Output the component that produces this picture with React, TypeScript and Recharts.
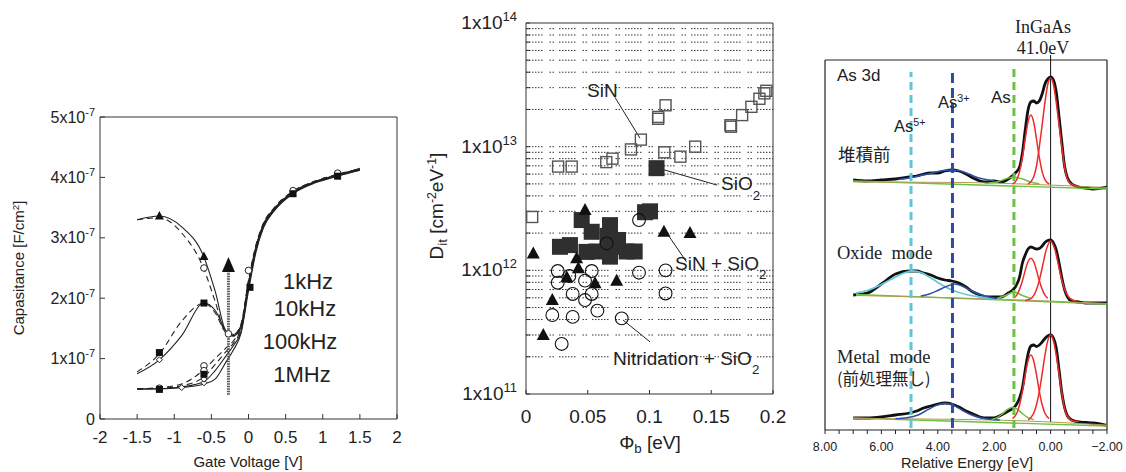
import React from 'react'
import {
  ComposedChart, ScatterChart, LineChart,
  Line, Scatter, XAxis, YAxis, ReferenceLine,
} from 'recharts'

const SANS = '"Liberation Sans", Arial, sans-serif'
const SERIF = '"Liberation Serif", "Times New Roman", serif'
const CJK = '"Noto Sans CJK JP", "Noto Sans CJK SC", sans-serif'
const INK = '#222'
const W = 1126
const H = 472

// ---------- left panel: C-V, capacitance in 1e-7 F/cm2
const gateV = [-1.5, -1.2, -0.9, -0.6, -0.45, -0.3, -0.2, -0.1, 0, 0.1, 0.2, 0.35, 0.6, 0.9, 1.2, 1.5]
const cap1k = [3.30, 3.36, 3.18, 2.68, 2.12, 1.45, 1.40, 1.55, 2.25, 2.85, 3.22, 3.48, 3.76, 3.93, 4.04, 4.15]
const cap1kB = [3.30, 3.33, 3.08, 2.48, 1.95, 1.42, 1.40, 1.58, 2.30, 2.88, 3.24, 3.50, 3.77, 3.94, 4.05, 4.14]
const cap10k = [0.75, 0.98, 1.38, 1.92, 1.80, 1.45, 1.38, 1.52, 2.20, 2.80, 3.20, 3.47, 3.74, 3.92, 4.03, 4.13]
const cap10kB = [0.78, 1.08, 1.62, 1.92, 1.76, 1.42, 1.37, 1.55, 2.26, 2.84, 3.22, 3.49, 3.76, 3.93, 4.04, 4.14]
const cap100k = [0.50, 0.50, 0.53, 0.62, 0.80, 1.05, 1.22, 1.45, 2.18, 2.80, 3.18, 3.46, 3.74, 3.92, 4.03, 4.12]
const cap100kB = [0.50, 0.52, 0.58, 0.82, 1.00, 1.18, 1.30, 1.52, 2.28, 2.86, 3.22, 3.50, 3.77, 3.94, 4.05, 4.14]
const cap1M = [0.49, 0.50, 0.52, 0.58, 0.66, 0.95, 1.15, 1.42, 2.12, 2.76, 3.16, 3.45, 3.73, 3.91, 4.02, 4.12]
const cap1MB = [0.50, 0.51, 0.55, 0.70, 0.90, 1.12, 1.26, 1.50, 2.25, 2.84, 3.20, 3.48, 3.75, 3.93, 4.04, 4.13]

const cvXTicks = [-2, -1.5, -1, -0.5, 0, 0.5, 1, 1.5, 2]
const cvYTicks = [0, 1, 2, 3, 4, 5]

const triMarks = [[-1.2, 3.36], [-0.6, 2.69]]
const squareMarks = [[-1.2, 1.1], [-0.6, 1.92], [0.02, 2.18], [0.6, 3.73], [1.2, 4.02], [-1.2, 0.49], [-0.6, 0.74]]
const circleMarks = [[-0.6, 2.5], [-0.27, 1.41], [-0.6, 0.88], [-1.2, 0.51], [0, 2.46], [0.6, 3.78], [1.2, 4.07], [-0.6, 0.8]]
const diamondMarks = [[-1.2, 0.98], [-0.6, 0.6], [-0.9, 0.52], [-0.6, 0.66]]

const arrowV = -0.27
const arrowFrom = 0.4
const arrowTo = 2.45

const cvData = gateV.map((v, i) => ({
  v,
  a: cap1k[i], aB: cap1kB[i],
  b: cap10k[i], bB: cap10kB[i],
  c: cap100k[i], cB: cap100kB[i],
  d: cap1M[i], dB: cap1MB[i],
}))
const cvLines = [
  { key: 'a', dash: false }, { key: 'aB', dash: true },
  { key: 'b', dash: false }, { key: 'bB', dash: true },
  { key: 'c', dash: false }, { key: 'cB', dash: true },
  { key: 'd', dash: false }, { key: 'dB', dash: true },
]
const toVC = (p: number[][]) => p.map(([v, c]) => ({ v, c }))

// ---------- middle panel: Dit vs barrier height
const sinPts = [
  [0.005, 2.7e12], [0.026, 6.9e12], [0.037, 6.9e12], [0.065, 7.5e12], [0.070, 8.0e12],
  [0.085, 9.5e12], [0.093, 1.14e13], [0.107, 1.74e13], [0.107, 1.68e13], [0.113, 2.16e13],
  [0.112, 9.0e12], [0.125, 8.3e12], [0.137, 1.0e13], [0.1655, 1.49e13], [0.166, 1.45e13],
  [0.175, 1.8e13], [0.1825, 2.1e13], [0.189, 2.44e13], [0.1946, 2.83e13], [0.193, 2.7e13],
]
const sio2Pts = [
  [0.1057, 6.7e12], [0.0964, 2.95e12], [0.1004, 3.0e12], [0.0451, 2.55e12], [0.0532, 2.05e12],
  [0.068, 2.32e12], [0.066, 1.9e12], [0.0275, 1.55e12], [0.0356, 1.6e12], [0.049, 1.41e12],
  [0.0572, 1.42e12], [0.0694, 1.55e12], [0.068, 1.29e12], [0.0745, 1.76e12], [0.0815, 1.42e12],
  [0.088, 1.42e12],
]
const sinSio2Pts = [
  [0.0059, 1.37e12], [0.0478, 3.07e12], [0.041, 1.25e12], [0.0424, 1.04e12], [0.033, 8.8e11],
  [0.0559, 7.85e11], [0.0734, 8.25e11], [0.0213, 5.75e11], [0.014, 3.0e11], [0.1117, 2.05e12],
  [0.1328, 2.0e12],
]
const nitrPts = [
  [0.0915, 2.55e12], [0.0653, 1.65e12], [0.0257, 9.87e11], [0.0351, 9.0e11], [0.0532, 9.87e11],
  [0.0257, 7.94e11], [0.0478, 8.25e11], [0.0915, 9.57e11], [0.113, 1.0e12], [0.0378, 6.44e11],
  [0.0532, 6.44e11], [0.0478, 5.75e11], [0.113, 6.5e11], [0.0213, 4.35e11], [0.0378, 4.2e11],
  [0.0578, 4.72e11], [0.0775, 4.09e11], [0.0289, 2.54e11],
]
const ditXTicks = [0, 0.05, 0.1, 0.15, 0.2]
const ditYTicks = [
  1e11, 2e11, 3e11, 4e11, 5e11, 6e11, 7e11, 8e11, 9e11,
  1e12, 2e12, 3e12, 4e12, 5e12, 6e12, 7e12, 8e12, 9e12,
  1e13, 2e13, 3e13, 4e13, 5e13, 6e13, 7e13, 8e13, 9e13, 1e14,
]
const ditLeaders = [
  [[0.072, 2.51e13], [0.0923, 1.17e13]],
  [[0.107, 6.7e12], [0.1547, 4.89e12]],
  [[0.114, 2.0e12], [0.130, 1.17e12]],
  [[0.0785, 3.97e11], [0.1004, 2.64e11]],
]
const toXY = (p: number[][]) => p.map(([x, y]) => ({ x, y }))

// ---------- right panel: As 3d XPS (intensity a.u., spectra stacked)
const specE = [7.0, 6.5, 6.0, 5.5, 5.0, 4.75, 4.5, 4.25, 4.0, 3.75, 3.5, 3.25, 3.0, 2.75, 2.5, 2.25, 2.0, 1.75, 1.5, 1.25, 1.1, 1.0, 0.9, 0.8, 0.7, 0.6, 0.5, 0.4, 0.3, 0.2, 0.1, 0.0, -0.1, -0.2, -0.3, -0.4, -0.5, -0.6, -0.75, -1.0, -1.25, -1.5, -2.0]
const specBefore = [250, 249, 250, 251, 253, 254, 256, 257, 257, 259, 260, 259, 256, 252, 249, 248, 249, 248, 251, 257, 263, 277, 300, 320, 328, 329, 327, 329, 336, 346, 351, 353, 350, 338, 313, 287, 263, 252, 246, 243, 242, 241, 243]
const specOxide = [135, 137, 146, 156, 159, 159, 157, 155, 152, 150, 149, 147, 143, 138, 135, 133, 133, 133, 137, 143, 153, 167, 175, 181, 183, 182, 181, 181.5, 184, 187.5, 189.5, 190, 187, 180, 167, 152, 140, 133, 129, 128, 127, 127, 127]
const specMetal = [12, 12, 13, 15, 17, 19, 22, 24, 26, 27, 26, 23, 19, 16, 13, 12, 12, 15, 19, 24, 32, 42, 60, 76, 84, 85, 83.5, 85, 88, 91.5, 94, 95, 92, 82, 60, 37, 22, 14, 10, 8, 7.5, 7, 4.5]

const befRedA = [[0.8, 245.8], [0.6, 253], [0.5, 264], [0.4, 283], [0.3, 304.9], [0.2, 327.7], [0.1, 345.5], [0, 352], [-0.1, 345.5], [-0.2, 327.7], [-0.3, 304.9], [-0.4, 283], [-0.5, 262], [-0.6, 251], [-0.8, 245], [-1.0, 244]]
const befRedB = [[1.35, 246], [1.2, 250.3], [1.1, 258.4], [1.0, 272.6], [0.9, 291], [0.8, 308], [0.7, 315], [0.6, 308], [0.5, 291], [0.4, 272.6], [0.3, 258.4], [0.2, 250.3], [0.05, 246]]
const befGreen = [[2.2, 247], [1.9, 248], [1.6, 251], [1.3, 253], [1.0, 251], [0.7, 248], [0.4, 246]]
const befBlue = [[5.4, 250.5], [5.0, 252], [4.6, 254.5], [4.2, 257], [3.8, 259.5], [3.5, 260], [3.2, 259], [2.9, 256], [2.6, 252.5], [2.3, 250.5], [2.0, 249.5]]
const befBase = [[7.0, 249], [-2.0, 241]]
const befBase2 = [[7.0, 248], [3.0, 247.5], [1.0, 246], [-2.0, 242.5]]

const oxCyan = [[6.9, 137], [6.5, 139.5], [6.0, 145.5], [5.5, 153], [5.2, 157], [4.9, 159], [4.6, 157.5], [4.3, 153], [4.0, 147.5], [3.5, 140], [3.0, 135.5], [2.5, 133], [2.0, 131.5]]
const oxBlue = [[4.6, 134], [4.3, 136], [4.0, 139.5], [3.7, 143.5], [3.4, 146], [3.1, 143.5], [2.8, 139], [2.5, 135.5], [2.2, 133], [1.9, 131.5]]
const oxRedA = [[0.9, 129.5], [0.7, 131.3], [0.5, 140.4], [0.4, 149.6], [0.3, 162], [0.15, 180.6], [0, 189], [-0.15, 180.6], [-0.3, 162], [-0.4, 149.6], [-0.5, 140.4], [-0.7, 131.3], [-0.9, 129]]
const oxRedB = [[1.3, 131.8], [1.2, 134.8], [1.0, 149.2], [0.9, 159.6], [0.8, 168.5], [0.7, 171.7], [0.6, 168.5], [0.5, 159.6], [0.4, 149.2], [0.2, 134.8], [0.1, 131.8]]
const oxGreen = [[1.9, 131.5], [1.6, 134.5], [1.3, 138], [1.0, 134.5], [0.7, 131.5]]
const oxBase = [[6.9, 135.5], [-2.0, 126]]
const oxBase2 = [[6.9, 134.5], [2.0, 131], [-2.0, 126.5]]

const meRedA = [[0.8, 10.2], [0.6, 16.8], [0.5, 25.3], [0.4, 38.6], [0.3, 56.2], [0.2, 74.9], [0.1, 89.4], [0, 95], [-0.1, 89.4], [-0.2, 74.9], [-0.3, 56.2], [-0.4, 36.5], [-0.5, 21], [-0.6, 13.5], [-0.8, 9], [-1.0, 8.5]]
const meRedB = [[1.35, 11.4], [1.2, 16.7], [1.1, 25.2], [1.0, 38.7], [0.9, 55.2], [0.8, 69.3], [0.7, 75], [0.6, 69.3], [0.5, 55.2], [0.4, 38.7], [0.3, 25.2], [0.2, 16.7], [0.05, 11.4]]
const meGreen = [[2.1, 10.6], [1.9, 12.4], [1.7, 16.4], [1.5, 21.2], [1.35, 22.7], [1.2, 21.2], [1.0, 16.4], [0.8, 12.4], [0.6, 10.6]]
const meBlue = [[5.5, 11.2], [5.1, 12.2], [4.7, 15], [4.35, 20.3], [4.05, 24.6], [3.75, 26.8], [3.45, 24.6], [3.15, 20], [2.8, 15], [2.45, 12], [2.1, 10.5], [1.8, 10]]
const meBase = [[7.0, 12], [-2.0, 4]]
const meBase2 = [[7.0, 11.5], [2.0, 10], [-2.0, 5]]

const energyTicks = [8, 7.5, 7, 6.5, 6, 5.5, 5, 4.5, 4, 3.5, 3, 2.5, 2, 1.5, 1, 0.5, 0, -0.5, -1, -1.5, -2]
const peakRefs = [
  { e: 4.95, top: 358, color: '#5fc6da', dash: '8 5' },
  { e: 3.48, top: 361, color: '#2c4d9f', dash: '10 5' },
  { e: 1.3, top: 361, color: '#6cc144', dash: '8 5' },
]
const toEI = (p: number[][]) => p.map(([e, i]) => ({ e, i }))
const specPts = (vals: number[]) => specE.map((e, k) => ({ e, i: vals[k] }))

const RED = '#ee2a2a'
const GREEN = '#6cc23e'
const BLUE = '#2d50a8'
const CYAN = '#66c8da'
const OLIVE = '#b29a55'

const fitLines = [
  { pts: befBase, color: GREEN, w: 1.4 }, { pts: befBase2, color: OLIVE, w: 1 },
  { pts: oxBase, color: GREEN, w: 1.4 }, { pts: oxBase2, color: OLIVE, w: 1 },
  { pts: meBase, color: GREEN, w: 1.4 }, { pts: meBase2, color: OLIVE, w: 1 },
  { pts: befBlue, color: BLUE, w: 1.5 }, { pts: befGreen, color: GREEN, w: 1.5 },
  { pts: befRedB, color: RED, w: 1.5 }, { pts: befRedA, color: RED, w: 1.5 },
  { pts: oxCyan, color: CYAN, w: 1.8 }, { pts: oxBlue, color: BLUE, w: 1.5 },
  { pts: oxGreen, color: GREEN, w: 1.5 }, { pts: oxRedB, color: RED, w: 1.5 },
  { pts: oxRedA, color: RED, w: 1.5 },
  { pts: meBlue, color: BLUE, w: 1.5 }, { pts: meGreen, color: GREEN, w: 1.5 },
  { pts: meRedB, color: RED, w: 1.5 }, { pts: meRedA, color: RED, w: 1.5 },
]

// ---------- small helpers
const Sup = ({ children, size = 0.65, rise = 0.55 }: any) => (
  <span style={{ fontSize: `${size}em`, position: 'relative', top: `-${rise}em` }}>{children}</span>
)
const Sub = ({ children, size = 0.7, drop = 4 }: any) => (
  <span style={{ fontSize: `${size}em`, position: 'relative', top: drop }}>{children}</span>
)

type NoteProps = {
  x: number; y: number; size: number; font?: string
  center?: boolean; rotate?: boolean; children: React.ReactNode
}
function Note({ x, y, size, font = SANS, center = false, rotate = false, children }: NoteProps) {
  return (
    <div
      style={{
        position: 'absolute', left: x, top: y, fontFamily: font, fontSize: size,
        lineHeight: 1, color: INK, whiteSpace: 'pre',
        transform: `translate(${center ? '-50%' : '0'}, -50%)${rotate ? ' rotate(-90deg)' : ''}`,
      }}
    >
      {children}
    </div>
  )
}

function CvXTick({ x, y, payload }: any) {
  return (
    <text x={x} y={y} textAnchor="middle" fontFamily={SANS} fontSize={17} fill={INK}>
      {payload.value}
    </text>
  )
}
function CvYTick({ x, y, payload }: any) {
  const v = payload.value
  if (v === 0) {
    return (
      <text x={x} y={y + 5.5} textAnchor="end" fontFamily={SANS} fontSize={16} fill={INK}>0</text>
    )
  }
  return (
    <text x={x} y={y + 5.5} textAnchor="end" fontFamily={SANS} fontSize={16} fill={INK}>
      {`${v}x10`}<tspan dy={-7} fontSize={11}>-7</tspan>
    </text>
  )
}
function DitXTick({ x, y, payload }: any) {
  return (
    <text x={x} y={y} textAnchor="middle" fontFamily={SANS} fontSize={19} fill={INK}>
      {payload.value}
    </text>
  )
}
function DitYTick({ x, y, payload }: any) {
  const lg = Math.log10(payload.value)
  if (Math.abs(lg - Math.round(lg)) > 1e-6) return <g />
  return (
    <text x={x} y={y + 6} textAnchor="end" fontFamily={SANS} fontSize={19} fill={INK}>
      1x10<tspan dy={-8} fontSize={13}>{Math.round(lg)}</tspan>
    </text>
  )
}
function EnergyTick({ x, y, payload }: any) {
  const v = payload.value
  if (Math.abs(v % 2) > 1e-9) return <g />
  const s = v < 0 ? `\u2212${Math.abs(v).toFixed(2)}` : v.toFixed(2)
  return (
    <text x={x} y={y} textAnchor="middle" fontFamily={SANS} fontSize={12.5} fill={INK}>
      {s}
    </text>
  )
}

const triShape = (p: any) => (
  <polygon points={`${p.cx},${p.cy - 5} ${p.cx - 4.5},${p.cy + 3.5} ${p.cx + 4.5},${p.cy + 3.5}`} fill="#111" />
)
const squareShape = (p: any) => <rect x={p.cx - 3.5} y={p.cy - 3.5} width={7} height={7} fill="#111" />
const circleShape = (p: any) => <circle cx={p.cx} cy={p.cy} r={3.3} fill="#fff" stroke="#222" strokeWidth={1} />
const diamondShape = (p: any) => (
  <polygon points={`${p.cx},${p.cy - 3} ${p.cx + 3},${p.cy} ${p.cx},${p.cy + 3} ${p.cx - 3},${p.cy}`} fill="#fff" stroke="#222" strokeWidth={1} />
)
const arrowHead = (p: any) => (
  <polygon points={`${p.cx},${p.cy - 14} ${p.cx - 6.5},${p.cy + 1} ${p.cx + 6.5},${p.cy + 1}`} fill="#111" />
)

const openSquare = (p: any) => (
  <rect x={p.cx - 5.5} y={p.cy - 5.5} width={11} height={11} fill="none" stroke="#555" strokeWidth={1.4} />
)
const fillSquare = (p: any) => <rect x={p.cx - 8} y={p.cy - 8} width={16} height={16} fill="#2f2f2f" />
const fillTri = (p: any) => (
  <polygon points={`${p.cx},${p.cy - 7} ${p.cx - 6.5},${p.cy + 5} ${p.cx + 6.5},${p.cy + 5}`} fill="#111" />
)
const openCircle = (p: any) => <circle cx={p.cx} cy={p.cy} r={6.4} fill="none" stroke="#111" strokeWidth={1.1} />

const AX = '#333'

function CvPanel() {
  return (
    <ComposedChart width={W} height={H} data={cvData} margin={{ top: 117, right: 719, bottom: 23, left: 40 }}>
      <XAxis
        dataKey="v" type="number" domain={[-2, 2]} ticks={cvXTicks} interval={0}
        tickSize={-5} tickMargin={29} tick={<CvXTick />} height={30}
        axisLine={{ stroke: AX }} tickLine={{ stroke: AX }}
      />
      <YAxis
        type="number" domain={[0, 5]} ticks={cvYTicks} interval={0} width={60}
        tickSize={-5} tickMargin={10} tick={<CvYTick />}
        axisLine={{ stroke: AX }} tickLine={{ stroke: AX }}
      />
      <YAxis
        yAxisId="r" orientation="right" type="number" domain={[0, 5]} ticks={cvYTicks}
        interval={0} width={10} tickSize={-5} tick={() => <g />}
        axisLine={{ stroke: AX }} tickLine={{ stroke: AX }}
      />
      <ReferenceLine y={5} stroke={AX} />
      {cvLines.map((l) => (
        <Line
          key={l.key} dataKey={l.key} type="monotone" stroke="#222" strokeWidth={1.1}
          strokeDasharray={l.dash ? '6 4' : undefined} dot={false} isAnimationActive={false}
        />
      ))}
      <ReferenceLine
        segment={[{ x: arrowV, y: arrowFrom }, { x: arrowV, y: arrowTo }]}
        stroke="#555" strokeWidth={3} strokeDasharray="1.5 1"
      />
      <Scatter data={toVC(diamondMarks)} dataKey="c" shape={diamondShape} isAnimationActive={false} />
      <Scatter data={toVC(circleMarks)} dataKey="c" shape={circleShape} isAnimationActive={false} />
      <Scatter data={toVC(squareMarks)} dataKey="c" shape={squareShape} isAnimationActive={false} />
      <Scatter data={toVC(triMarks)} dataKey="c" shape={triShape} isAnimationActive={false} />
      <Scatter data={[{ v: arrowV, c: arrowTo }]} dataKey="c" shape={arrowHead} isAnimationActive={false} />
    </ComposedChart>
  )
}

function DitPanel() {
  return (
    <ScatterChart width={W} height={H} margin={{ top: 23, right: 353, bottom: 48, left: 446 }}>
      <XAxis
        dataKey="x" type="number" domain={[0, 0.2]} ticks={ditXTicks} interval={0}
        tickSize={-4} tickMargin={33} tick={<DitXTick />} height={30}
        axisLine={{ stroke: AX }} tickLine={{ stroke: AX }}
      />
      <YAxis
        dataKey="y" type="number" scale="log" domain={[1e11, 1e14]} ticks={ditYTicks}
        interval={0} width={80} tickSize={-4} tickMargin={13} tick={<DitYTick />}
        axisLine={{ stroke: AX }} tickLine={{ stroke: AX }}
      />
      {ditYTicks.slice(1, -1).map((v) => (
        <ReferenceLine
          key={v} y={v} stroke="#333" strokeWidth={1}
          strokeDasharray="1.5 1.5 1.5 1.5 1.5 1.5 1.5 1.5 1.5 1.5 1.5 7 1.5 1.5 1.5 5"
        />
      ))}
      <ReferenceLine y={1e14} stroke={AX} />
      <ReferenceLine x={0.2} stroke={AX} />
      {ditLeaders.map((s, i) => (
        <ReferenceLine
          key={i} stroke="#222" strokeWidth={1}
          segment={[{ x: s[0][0], y: s[0][1] }, { x: s[1][0], y: s[1][1] }]}
        />
      ))}
      <Scatter data={toXY(sinPts)} shape={openSquare} isAnimationActive={false} />
      <Scatter data={toXY(sio2Pts)} shape={fillSquare} isAnimationActive={false} />
      <Scatter data={toXY(nitrPts)} shape={openCircle} isAnimationActive={false} />
      <Scatter data={toXY(sinSio2Pts)} shape={fillTri} isAnimationActive={false} />
    </ScatterChart>
  )
}

function XpsPanel() {
  return (
    <LineChart width={W} height={H} margin={{ top: 60, right: 19, bottom: 12, left: 825 }}>
      <XAxis
        dataKey="e" type="number" domain={[-2, 8]} reversed ticks={energyTicks} interval={0}
        tickSize={4} tickMargin={17} tick={<EnergyTick />} height={30}
        axisLine={{ stroke: '#222', strokeWidth: 1.2 }} tickLine={{ stroke: '#222' }}
        allowDataOverflow
      />
      <YAxis hide type="number" domain={[0, 370]} allowDataOverflow />
      <ReferenceLine x={8} stroke="#222" strokeWidth={1.2} />
      <ReferenceLine x={-2} stroke="#222" strokeWidth={1.2} />
      <ReferenceLine y={370} stroke="#222" strokeWidth={1.2} />
      <ReferenceLine
        segment={[{ x: 0, y: 8 }, { x: 0, y: 375 }]} ifOverflow="visible"
        stroke="#111" strokeWidth={1}
      />
      {[specBefore, specOxide, specMetal].map((s, i) => (
        <Line
          key={`s${i}`} data={specPts(s)} dataKey="i" type="monotone" stroke="#111"
          strokeWidth={2.8} dot={false} isAnimationActive={false}
        />
      ))}
      {fitLines.map((f, i) => (
        <Line
          key={`f${i}`} data={toEI(f.pts)} dataKey="i" type="monotone" stroke={f.color}
          strokeWidth={f.w} dot={false} isAnimationActive={false}
        />
      ))}
      {peakRefs.map((r) => (
        <ReferenceLine
          key={r.e} segment={[{ x: r.e, y: 2 }, { x: r.e, y: r.top }]}
          stroke={r.color} strokeWidth={3} strokeDasharray={r.dash}
        />
      ))}
    </LineChart>
  )
}

export default function App() {
  const layer: React.CSSProperties = { position: 'absolute', left: 0, top: 0 }
  return (
    <div style={{ position: 'absolute', left: 0, top: 0, width: W, height: H, background: '#fff', overflow: 'hidden' }}>
      <div style={layer}><CvPanel /></div>
      <div style={layer}><DitPanel /></div>
      <div style={layer}><XpsPanel /></div>

      {/* left panel texts */}
      <Note x={18} y={268} size={15} center rotate>Capasitance [F/cm<Sup>2</Sup>]</Note>
      <Note x={248} y={461} size={15} center>Gate Voltage [V]</Note>
      <Note x={308} y={282} size={22} center>1kHz</Note>
      <Note x={305} y={309} size={22} center>10kHz</Note>
      <Note x={300} y={342} size={22} center>100kHz</Note>
      <Note x={302} y={375} size={22} center>1MHz</Note>

      {/* middle panel texts */}
      <Note x={436} y={206} size={19} center rotate>
        D<Sub drop={4}>it</Sub> [cm<Sup>-2</Sup>eV<Sup>-1</Sup>]
      </Note>
      <Note x={650} y={442} size={19} center>{'\u03A6'}<Sub drop={4}>b</Sub> [eV]</Note>
      <Note x={587} y={90} size={19}>SiN</Note>
      <Note x={721} y={183} size={19}>SiO<Sub drop={10}>2</Sub></Note>
      <Note x={675} y={263} size={19}>SiN + SiO<Sub drop={9}>2</Sub></Note>
      <Note x={613} y={358} size={19}>Nitridation + SiO<Sub drop={9}>2</Sub></Note>

      {/* right panel texts */}
      <Note x={1043} y={27} size={18} font={SERIF} center>InGaAs</Note>
      <Note x={1043} y={48} size={18} font={SERIF} center>41.0eV</Note>
      <Note x={837} y={75} size={17}>As 3d</Note>
      <Note x={894} y={126} size={16.5}>As<Sup>5+</Sup></Note>
      <Note x={938} y={102} size={16.5}>As<Sup>3+</Sup></Note>
      <Note x={991} y={97} size={17}>As</Note>
      <Note x={838} y={154} size={17.5} font={CJK}>堆積前</Note>
      <Note x={837} y={253} size={18.5} font={SERIF}>Oxide  mode</Note>
      <Note x={837} y={357} size={18.5} font={SERIF}>Metal  mode</Note>
      <Note x={837} y={378} size={16.5} font={CJK}>(前処理無し)</Note>
      <Note x={967} y={463} size={14.5} center>Relative Energy [eV]</Note>
    </div>
  )
}
